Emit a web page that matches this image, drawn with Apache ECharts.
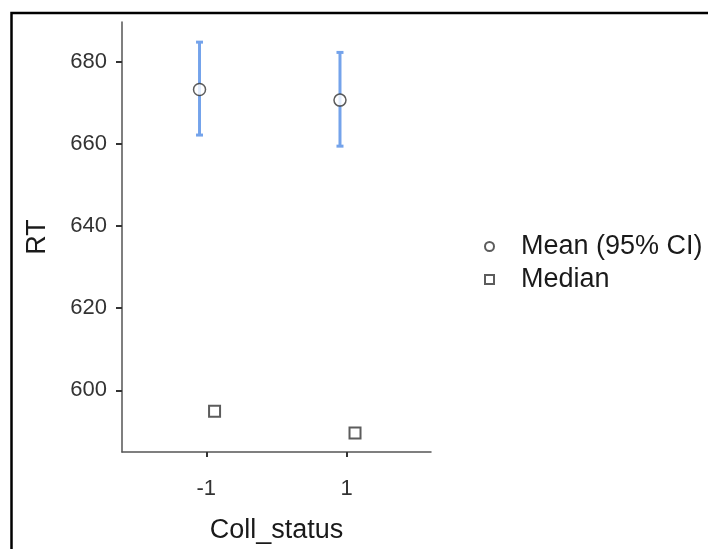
<!DOCTYPE html>
<html>
<head>
<meta charset="utf-8">
<script src="https://cdn.jsdelivr.net/npm/echarts@6/dist/echarts.min.js"></script>
<style>html,body{margin:0;padding:0;background:#fff}#c{width:708px;height:549px}</style>
</head>
<body>
<div id="c"></div>
<script>
var categories = ['-1', '1'];
var meanRT = [673.2, 670.6];
var ciLow = [662.1, 659.4];
var ciHigh = [684.7, 682.2];
var medianRT = [594.9, 589.6];
var yTicks = [600, 620, 640, 660, 680];

var MEAN_DODGE = -0.048, MEDIAN_DODGE = 0.059;
var FONT = "'Liberation Sans', Arial, sans-serif";

var meanData = meanRT.map(function (v, i) { return [i + 1 + MEAN_DODGE, v]; });
var medianData = medianRT.map(function (v, i) { return [i + 1 + MEDIAN_DODGE, v]; });
var ciData = meanRT.map(function (v, i) { return [i + 1 + MEAN_DODGE, ciLow[i], ciHigh[i]]; });

var chart = echarts.init(document.getElementById('c'), null, {renderer: 'canvas'});
chart.setOption({
  animation: false,
  backgroundColor: '#fff',
  grid: {left: 122, right: 277, top: 22, bottom: 95},
  xAxis: {
    type: 'value', min: 0.4, max: 2.6,
    name: 'Coll_status', nameLocation: 'middle', nameGap: 65,
    nameTextStyle: {fontSize: 27, color: '#1a1a1a', fontFamily: FONT},
    axisLine: {show: true, lineStyle: {color: '#555', width: 1.5}},
    axisTick: {show: true, customValues: [1, 2], length: 5, lineStyle: {color: '#333', width: 2}},
    axisLabel: {customValues: [1, 2], margin: 26, fontSize: 22, color: '#333', fontFamily: FONT,
      formatter: function (v) { return categories[Math.round(v) - 1]; }},
    splitLine: {show: false}
  },
  yAxis: {
    type: 'value', min: 585, max: 689.6,
    name: 'RT', nameLocation: 'middle', nameGap: 71,
    nameTextStyle: {fontSize: 27, color: '#1a1a1a', fontFamily: FONT},
    axisLine: {show: true, lineStyle: {color: '#555', width: 1.5}},
    axisTick: {show: true, customValues: yTicks, length: 6, lineStyle: {color: '#333', width: 2}},
    axisLabel: {customValues: yTicks, margin: 15, fontSize: 22, color: '#333', fontFamily: FONT},
    splitLine: {show: false}
  },
  legend: {
    orient: 'vertical', left: 479, top: 228, itemWidth: 9, itemHeight: 9, itemGap: 6,
    data: ['Mean (95% CI)', 'Median'],
    textStyle: {fontSize: 27, lineHeight: 27, color: '#1a1a1a', fontFamily: FONT, padding: [0, 0, 0, 22]}
  },
  graphic: [{
    type: 'polyline', silent: true,
    shape: {points: [[11.5, 549], [11.5, 13], [708, 13]]},
    style: {stroke: '#000', lineWidth: 2.5, fill: null}
  }],
  series: [{
    type: 'custom', name: 'CI', z: 1,
    data: ciData,
    encode: {x: 0, y: [1, 2]},
    renderItem: function (params, api) {
      var x = api.value(0);
      var lo = api.coord([x, api.value(1)]);
      var hi = api.coord([x, api.value(2)]);
      var cap = 3.5;
      var st = {stroke: '#74a3eb', lineWidth: 3};
      return {type: 'group', children: [
        {type: 'line', shape: {x1: lo[0], y1: lo[1], x2: hi[0], y2: hi[1]}, style: st},
        {type: 'line', shape: {x1: lo[0] - cap, y1: lo[1], x2: lo[0] + cap, y2: lo[1]}, style: st},
        {type: 'line', shape: {x1: hi[0] - cap, y1: hi[1], x2: hi[0] + cap, y2: hi[1]}, style: st}
      ]};
    }
  }, {
    type: 'scatter', name: 'Mean (95% CI)', z: 3,
    data: meanData, symbol: 'circle', symbolSize: 12,
    itemStyle: {color: '#fff', borderColor: '#333', borderWidth: 1.5}
  }, {
    type: 'scatter', name: 'Median', z: 3,
    data: medianData, symbol: 'rect', symbolSize: 11,
    itemStyle: {color: '#fff', borderColor: '#333', borderWidth: 2}
  }]
});
</script>
</body>
</html>
